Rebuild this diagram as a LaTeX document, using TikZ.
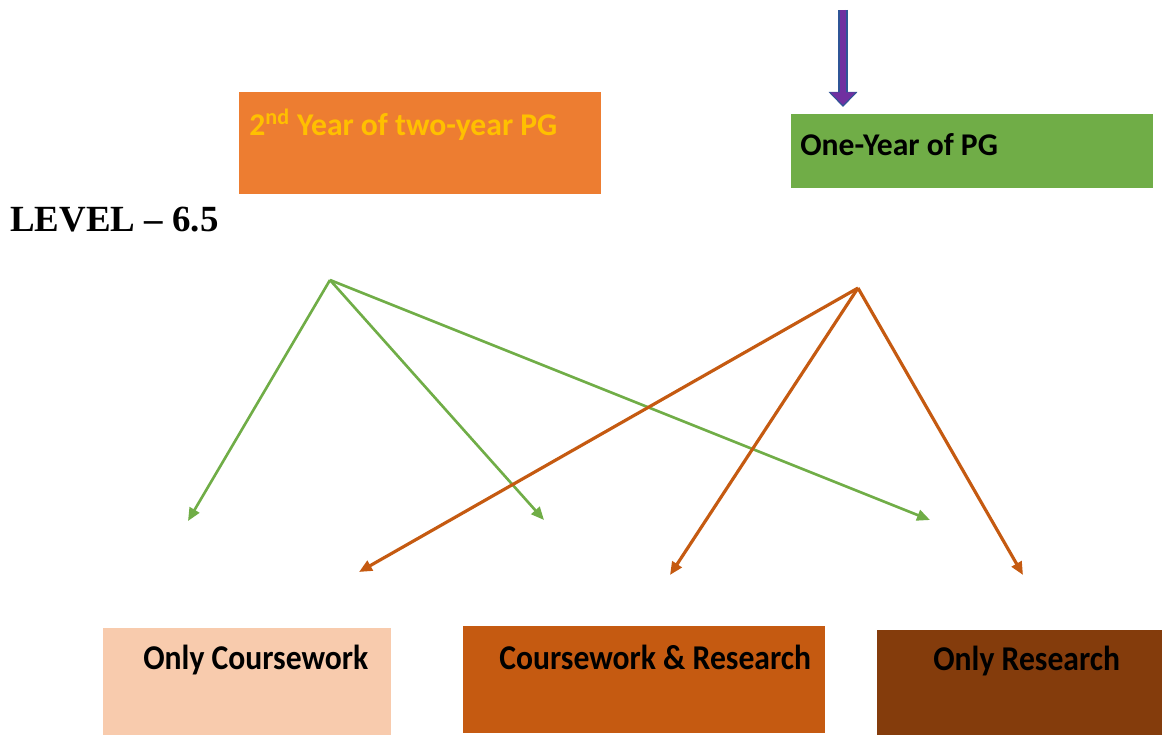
\documentclass[tikz,border=0pt]{standalone}
\usepackage{fontspec}
\setmainfont{Carlito}
\newfontfamily\levelfont[Ligatures=TeX]{Liberation Serif}
\usetikzlibrary{arrows.meta,positioning}

\definecolor{pgorange}{HTML}{ED7D31}
\definecolor{pgyellow}{HTML}{FFC000}
\definecolor{pggreen}{HTML}{70AD47}
\definecolor{cwpeach}{HTML}{F8CBAD}
\definecolor{crrust}{HTML}{C55A11}
\definecolor{rsbrown}{HTML}{843C0C}
\definecolor{flowpurple}{HTML}{7030A0}
\definecolor{flowblue}{HTML}{2F5597}

\begin{document}
\begin{tikzpicture}[
    box/.style={rectangle,anchor=north west,inner sep=0pt},
    boxtext/.style={anchor=west,inner sep=0pt,font=\fontsize{18}{21}\selectfont\bfseries},
    lowtext/.style={boxtext,yscale=1.1},
    greenarrow/.style={-{Triangle[length=0.26cm,width=0.22cm]},line width=1.5pt,pggreen},
    orangearrow/.style={-{Triangle[length=0.26cm,width=0.22cm]},line width=1.8pt,crrust}
]
\useasboundingbox (0,0) rectangle (23.24,-14.84);

% Top boxes
\node[box,fill=pgorange,minimum width=7.24cm,minimum height=2.04cm] (twoyear) at (4.78,-1.84) {};
\node[boxtext,text=pgyellow] (twoyeartext) at (4.98,-2.5) {2\textsuperscript{nd} Year of two-year PG};
\node[box,fill=pggreen,minimum width=7.24cm,minimum height=1.48cm] (oneyear) at (15.82,-2.28) {};
\node[boxtext] (oneyeartext) at (16.0,-2.9) {One-Year of PG};

% Incoming arrow
\coordinate (intop) at (16.86,-0.2);
\coordinate (inend) at (16.86,-2.14);
\draw[line width=0.19cm,flowblue,-{Triangle[length=0.3cm,width=0.56cm]}] (intop) -- (inend);
\draw[line width=0.13cm,flowpurple,-{Triangle[length=0.25cm,width=0.48cm]}] (intop) -- ([yshift=0.04cm]inend);

% Level label
\node[anchor=west,inner sep=0pt,font=\levelfont\fontsize{21}{25}\selectfont\bfseries] (level) at (0.2,-4.4) {LEVEL -- 6.5};

% Bottom boxes
\node[box,fill=cwpeach,minimum width=5.76cm,minimum height=2.14cm] (coursework) at (2.06,-12.56) {};
\node[lowtext] (courseworktext) at (2.86,-13.2) {Only Coursework};
\node[box,fill=crrust,minimum width=7.24cm,minimum height=2.14cm] (both) at (9.26,-12.52) {};
\node[lowtext] (bothtext) at (9.98,-13.14) {Coursework \& Research};
\node[box,fill=rsbrown,minimum width=5.70cm,minimum height=2.10cm] (research) at (17.54,-12.6) {};
\node[lowtext] (researchtext) at (18.66,-13.22) {Only Research};

% Arrow ends
\coordinate (gsrc) at (6.6,-5.6);
\coordinate (gcw) at (3.76,-10.42);
\coordinate (gboth) at (10.88,-10.4);
\coordinate (grs) at (18.6,-10.4);
\coordinate (osrc) at (17.16,-5.76);
\coordinate (ocw) at (7.18,-11.44);
\coordinate (oboth) at (13.4,-11.5);
\coordinate (ors) at (20.46,-11.5);

% Green arrows
\draw[greenarrow] (gsrc) -- (gcw);
\draw[greenarrow] (gsrc) -- (gboth);
\draw[greenarrow] (gsrc) -- (grs);

% Orange arrows
\draw[orangearrow] (osrc) -- (ocw);
\draw[orangearrow] (osrc) -- (oboth);
\draw[orangearrow] (osrc) -- (ors);

\end{tikzpicture}
\end{document}
